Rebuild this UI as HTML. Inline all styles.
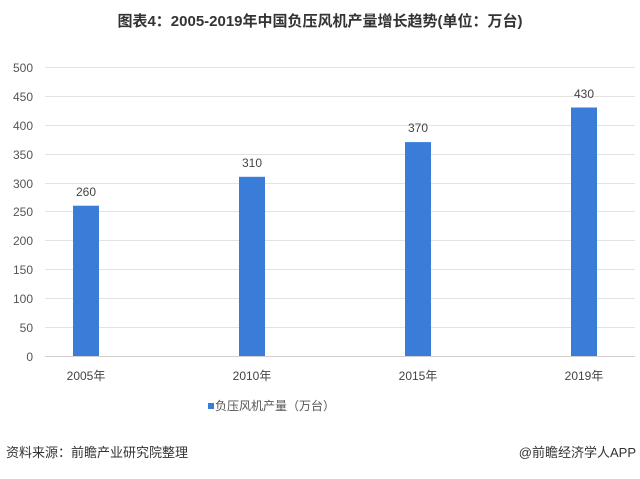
<!DOCTYPE html>
<html><head><meta charset="utf-8"><style>
body{margin:0;background:#fff;font-family:"Liberation Sans","Noto Sans CJK SC",sans-serif;}
</style></head><body>
<svg width="640" height="474" xmlns="http://www.w3.org/2000/svg" font-family="Liberation Sans, Noto Sans CJK SC, sans-serif">
<rect width="640" height="474" fill="#fff"/>
<text x="320" y="26" text-anchor="middle" font-size="15" font-weight="bold" fill="#333">图表4：2005-2019年中国负压风机产量增长趋势(单位：万台)</text>
<g stroke="#e3e3e3" stroke-width="1">
<line x1="45" x2="635" y1="67.5" y2="67.5"/><line x1="45" x2="635" y1="96.5" y2="96.5"/>
<line x1="45" x2="635" y1="125.5" y2="125.5"/><line x1="45" x2="635" y1="154.5" y2="154.5"/>
<line x1="45" x2="635" y1="183.5" y2="183.5"/><line x1="45" x2="635" y1="211.5" y2="211.5"/>
<line x1="45" x2="635" y1="240.5" y2="240.5"/><line x1="45" x2="635" y1="269.5" y2="269.5"/>
<line x1="45" x2="635" y1="298.5" y2="298.5"/><line x1="45" x2="635" y1="327.5" y2="327.5"/>
</g>
<line x1="45" x2="635" y1="356.5" y2="356.5" stroke="#d0d0d0"/>
<g font-size="12" fill="#555" text-anchor="end">
<text x="33" y="72">500</text><text x="33" y="101">450</text><text x="33" y="130">400</text>
<text x="33" y="159">350</text><text x="33" y="188">300</text><text x="33" y="216">250</text>
<text x="33" y="245">200</text><text x="33" y="274">150</text><text x="33" y="303">100</text>
<text x="33" y="332">50</text><text x="33" y="361">0</text>
</g>
<g fill="#3a7dd8">
<rect x="73" y="205.7" width="26" height="150.3"/>
<rect x="239" y="176.8" width="26" height="179.2"/>
<rect x="405" y="142.1" width="26" height="213.9"/>
<rect x="571" y="107.5" width="26" height="248.5"/>
</g>
<g font-size="12" fill="#444" text-anchor="middle">
<text x="86" y="196">260</text><text x="252" y="167">310</text>
<text x="418" y="132">370</text><text x="584" y="98">430</text>
<text x="86" y="380">2005年</text><text x="252" y="380">2010年</text>
<text x="418" y="380">2015年</text><text x="584" y="380">2019年</text>
</g>
<rect x="208" y="403" width="6" height="6" fill="#3a7dd8"/>
<text x="215" y="410" font-size="12" fill="#555">负压风机产量（万台）</text>
<text x="6" y="457" font-size="13" fill="#333">资料来源：前瞻产业研究院整理</text>
<text x="636" y="457" font-size="13" fill="#333" text-anchor="end">@前瞻经济学人APP</text>
</svg>
</body></html>
